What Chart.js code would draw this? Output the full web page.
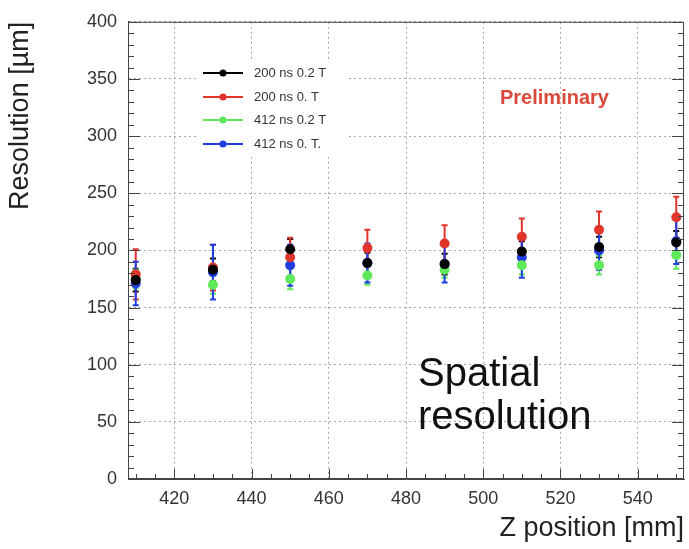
<!DOCTYPE html>
<html>
<head>
<meta charset="utf-8">
<script src="https://cdn.jsdelivr.net/npm/chart.js@4.4.0/dist/chart.umd.min.js"></script>
<style>
  html, body { margin: 0; padding: 0; background: #fff; }
  #wrap { width: 689px; height: 549px; }
</style>
</head>
<body>
<div id="wrap"><canvas id="resChart"></canvas></div>
<script>
// z positions [mm]
const zPos = [410, 430, 450, 470, 490, 510, 530, 550];
const xTicks = [420, 440, 460, 480, 500, 520, 540];
const yTicks = [0, 50, 100, 150, 200, 250, 300, 350, 400];

// resolution values [um] and their errors
const res200_02 = [174, 183, 201, 189, 188, 199, 203, 207];
const err200_02 = [10, 10, 9, 9, 9, 9, 9, 10];
const res200_0 = [179, 185, 194, 202, 206, 212, 218, 229];
const err200_0 = [22, 20, 17, 16, 16, 16, 16, 18];
const res412_02 = [175, 170, 175, 178, 183, 187, 187, 196];
const err412_02 = [8, 8, 9, 8, 7, 8, 8, 12];
const res412_0 = [171, 181, 187, 189, 188, 194, 200, 208];
const err412_0 = [19, 24, 18, 17, 16, 18, 17, 20];

const series = [
  { label: '200 ns 0.2 T', data: res200_02, err: err200_02, color: '#000000' },
  { label: '200 ns 0. T', data: res200_0, err: err200_0, color: '#e0352b' },
  { label: '412 ns 0.2 T', data: res412_02, err: err412_02, color: '#5ee85a' },
  { label: '412 ns 0. T.', data: res412_0, err: err412_0, color: '#1f3de0' }
];

const FONT = '"Liberation Sans", Arial, sans-serif';

const datasets = series.map(s => ({
  label: s.label,
  data: zPos.map((z, i) => ({ x: z, y: s.data[i] })),
  err: s.err,
  backgroundColor: s.color,
  borderColor: s.color,
  pointRadius: 5,
  pointBorderWidth: 0,
  showLine: false
}));

// error bars drawn through the chart scales
const errorBars = {
  id: 'errorBars',
  beforeDatasetsDraw(chart) {
    const ctx = chart.ctx;
    const xs = chart.scales.x, ys = chart.scales.y;
    ctx.save();
    chart.data.datasets.forEach(ds => {
      ctx.strokeStyle = ds.borderColor;
      ctx.lineWidth = 2;
      ds.data.forEach((p, i) => {
        const px = xs.getPixelForValue(p.x);
        const top = ys.getPixelForValue(p.y + ds.err[i]);
        const bot = ys.getPixelForValue(p.y - ds.err[i]);
        ctx.beginPath();
        ctx.moveTo(px, top); ctx.lineTo(px, bot);
        ctx.moveTo(px - 3, top); ctx.lineTo(px + 3, top);
        ctx.moveTo(px - 3, bot); ctx.lineTo(px + 3, bot);
        ctx.stroke();
      });
    });
    ctx.restore();
  }
};

// frame, minor ticks, legend box and annotations
const decor = {
  id: 'decor',
  afterDraw(chart) {
    const ctx = chart.ctx;
    const a = chart.chartArea;
    const xs = chart.scales.x, ys = chart.scales.y;
    ctx.save();
    ctx.strokeStyle = '#444';
    ctx.lineWidth = 1;
    ctx.strokeRect(a.left + 0.5, a.top + 0.5, a.right - a.left - 1, a.bottom - a.top - 1);

    // ticks along the axes
    ctx.beginPath();
    for (let v = 410; v <= 550; v += 5) {
      const px = Math.round(xs.getPixelForValue(v)) + 0.5;
      const len = v % 20 === 0 ? 10 : 5;
      ctx.moveTo(px, a.bottom); ctx.lineTo(px, a.bottom - len);
    }
    for (let v = 0; v <= 400; v += 10) {
      const py = Math.round(ys.getPixelForValue(v)) + 0.5;
      const len = v % 50 === 0 ? 12 : 6;
      ctx.moveTo(a.left, py); ctx.lineTo(a.left + len, py);
      ctx.moveTo(a.right, py); ctx.lineTo(a.right - len, py);
    }
    ctx.stroke();

    // legend
    ctx.fillStyle = '#fff';
    ctx.fillRect(196, 62, 150, 92);
    const rows = [73, 97, 120, 144];
    chart.data.datasets.forEach((ds, i) => {
      const y = rows[i];
      ctx.strokeStyle = ds.borderColor;
      ctx.lineWidth = 2;
      ctx.beginPath(); ctx.moveTo(203, y); ctx.lineTo(243, y); ctx.stroke();
      ctx.fillStyle = ds.borderColor;
      ctx.beginPath(); ctx.arc(223, y, 3.5, 0, Math.PI * 2); ctx.fill();
      ctx.fillStyle = '#333';
      ctx.font = '13px ' + FONT;
      ctx.textBaseline = 'middle';
      ctx.textAlign = 'left';
      ctx.fillText(ds.label, 254, y);
    });

    ctx.fillStyle = '#d94a3c';
    ctx.font = 'bold 20px ' + FONT;
    ctx.textBaseline = 'middle';
    ctx.fillText('Preliminary', 500, 98);

    ctx.fillStyle = '#111';
    ctx.font = '40px ' + FONT;
    ctx.fillText('Spatial', 418, 375);
    ctx.fillText('resolution', 418, 418);
    ctx.restore();
  }
};

new Chart(document.getElementById('resChart'), {
  type: 'scatter',
  data: { datasets: datasets },
  options: {
    responsive: true,
    maintainAspectRatio: false,
    animation: false,
    layout: { padding: { top: 17, right: 3, left: 0, bottom: 0 } },
    plugins: { legend: { display: false }, tooltip: { enabled: false } },
    scales: {
      x: {
        type: 'linear',
        min: 408,
        max: 552,
        afterBuildTicks: s => { s.ticks = xTicks.map(v => ({ value: v })); },
        afterFit: s => { s.height = 70; },
        grid: { color: '#a8a8a8', drawTicks: false, lineWidth: 1 },
        border: { display: true, color: '#444', dash: [2, 3] },
        ticks: { color: '#333', padding: 9, font: { family: FONT, size: 18 } },
        title: {
          display: true, text: 'Z position [mm]', align: 'end', color: '#222',
          font: { family: FONT, size: 27 }, padding: { top: 2 }
        }
      },
      y: {
        min: 0,
        max: 400,
        afterBuildTicks: s => { s.ticks = yTicks.map(v => ({ value: v })); },
        afterFit: s => { s.width = 128; },
        grid: { color: '#a8a8a8', drawTicks: false, lineWidth: 1 },
        border: { display: true, color: '#444', dash: [2, 3] },
        ticks: { color: '#333', padding: 11, font: { family: FONT, size: 18 } },
        title: {
          display: true, text: 'Resolution [µm]', align: 'end', color: '#222',
          font: { family: FONT, size: 27 }, padding: { bottom: 6 }
        }
      }
    }
  },
  plugins: [errorBars, decor]
});
</script>
</body>
</html>
